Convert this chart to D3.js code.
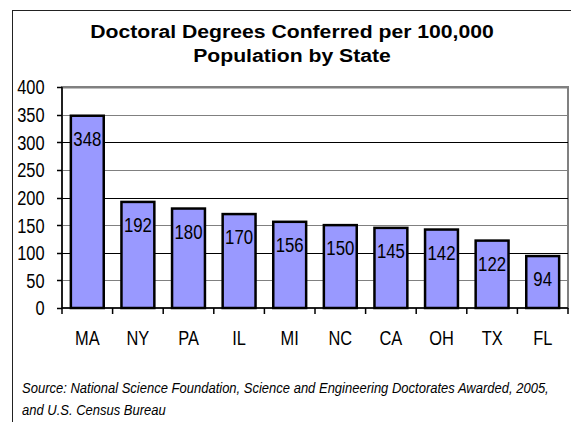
<!DOCTYPE html>
<html><head><meta charset="utf-8">
<script src="https://cdn.jsdelivr.net/npm/d3@7"></script>
<style>body{margin:0;background:#fff}svg{display:block}</style>
</head><body><svg id="c" width="571" height="422"></svg>
<script>
const states = ["MA","NY","PA","IL","MI","NC","CA","OH","TX","FL"];
const values = [348,192,180,170,156,150,145,142,122,94];
const yTicks = [0,50,100,150,200,250,300,350,400];
const titleLines = ["Doctoral Degrees Conferred per 100,000","Population by State"];
const sourceLines = ["Source: National Science Foundation, Science and Engineering Doctorates Awarded, 2005,","and U.S. Census Bureau"];

const svg = d3.select("#c");
const FONT = "'Liberation Sans',Arial,sans-serif";
const SX = 0.8; // horizontal condensing for narrow-looking labels
svg.append("rect").attr("x",12.5).attr("y",10.5).attr("width",600).attr("height",500)
  .attr("fill","#fff").attr("stroke","#222").attr("stroke-width",1);

const m = {l:62,r:568,t:87,b:308};
const x = d3.scaleBand().domain(states).range([m.l,m.r]).paddingInner(0.35).paddingOuter(0.175);
const y = d3.scaleLinear().domain([0,400]).range([m.b,m.t]);

// plot area
svg.append("rect").attr("x",m.l).attr("y",m.t).attr("width",m.r-m.l).attr("height",m.b-m.t)
  .attr("fill","#fff").attr("stroke","#808080").attr("stroke-width",2);
// gridlines
svg.append("g").selectAll("line").data(yTicks.filter(d=>d>0)).join("line")
  .attr("x1",m.l).attr("x2",m.r).attr("y1",d=>Math.round(y(d))+0.5).attr("y2",d=>Math.round(y(d))+0.5)
  .attr("stroke",d=>d%100===0 && d<400 ? "#000":"#808080").attr("stroke-width",d=>d===400?2:1);

// bars
svg.append("g").selectAll("rect").data(values).join("rect")
  .attr("x",(d,i)=>x(states[i])).attr("width",x.bandwidth())
  .attr("y",d=>y(d)).attr("height",d=>y(0)-y(d))
  .attr("fill","#9999ff").attr("stroke","#000").attr("stroke-width",2.5);

function cond(sel, fx, fy){
  return sel.attr("transform",(d,i)=>`translate(${fx(d,i)},${fy(d,i)}) scale(${SX},1)`);
}
// value labels
cond(svg.append("g").selectAll("text").data(values).join("text"),
  (d,i)=>x(states[i])+x.bandwidth()/2, d=>y(d)+30)
  .attr("text-anchor","middle").attr("font-family",FONT).attr("font-size",21)
  .attr("fill","#000").text(d=>d);

// y axis
svg.append("line").attr("x1",m.l).attr("x2",m.l).attr("y1",m.t).attr("y2",m.b)
  .attr("stroke","#000").attr("stroke-width",1.5);
svg.append("g").selectAll("line").data(yTicks).join("line")
  .attr("x1",m.l-5).attr("x2",m.l).attr("y1",d=>Math.round(y(d))+0.5).attr("y2",d=>Math.round(y(d))+0.5)
  .attr("stroke","#000").attr("stroke-width",1.5);
cond(svg.append("g").selectAll("text").data(yTicks).join("text"),
  ()=>44.5, d=>y(d))
  .attr("dy","0.36em").attr("text-anchor","end").attr("font-family",FONT).attr("font-size",20.5)
  .attr("fill","#000").text(d=>d);

// x axis
svg.append("line").attr("x1",m.l).attr("x2",m.r).attr("y1",m.b).attr("y2",m.b)
  .attr("stroke","#000").attr("stroke-width",1.5);
const bounds = d3.range(states.length+1).map(i=>m.l+i*x.step());
svg.append("g").selectAll("line").data(bounds).join("line")
  .attr("x1",d=>d).attr("x2",d=>d).attr("y1",m.b).attr("y2",m.b+6).attr("stroke","#000").attr("stroke-width",1.5);
cond(svg.append("g").selectAll("text").data(states).join("text"),
  d=>x(d)+x.bandwidth()/2, ()=>345)
  .attr("text-anchor","middle").attr("font-family",FONT).attr("font-size",20.5)
  .attr("fill","#000").text(d=>d);

// fit helper: scale a group of text lines horizontally so that line 0 has target width
function fitLines(sel, target, anchorX){
  const w = sel.nodes()[0].getComputedTextLength();
  const k = target / w;
  sel.attr("transform",function(){ const yy=+this.getAttribute("data-y"); return `translate(${anchorX},${yy}) scale(${k},1)`; });
}
// title
const tt = svg.append("g").selectAll("text").data(titleLines).join("text")
  .attr("data-y",(d,i)=>37.5+i*24.5).attr("text-anchor","middle")
  .attr("font-family",FONT).attr("font-weight","bold").attr("font-size",18.5)
  .attr("fill","#000").text(d=>d);
fitLines(tt, 404, 292);
// source
const st = svg.append("g").selectAll("text").data(sourceLines).join("text")
  .attr("data-y",(d,i)=>393+i*22)
  .attr("font-family",FONT).attr("font-style","italic").attr("font-size",14.5)
  .attr("fill","#000").text(d=>d);
fitLines(st, 527, 22);
</script></body></html>
